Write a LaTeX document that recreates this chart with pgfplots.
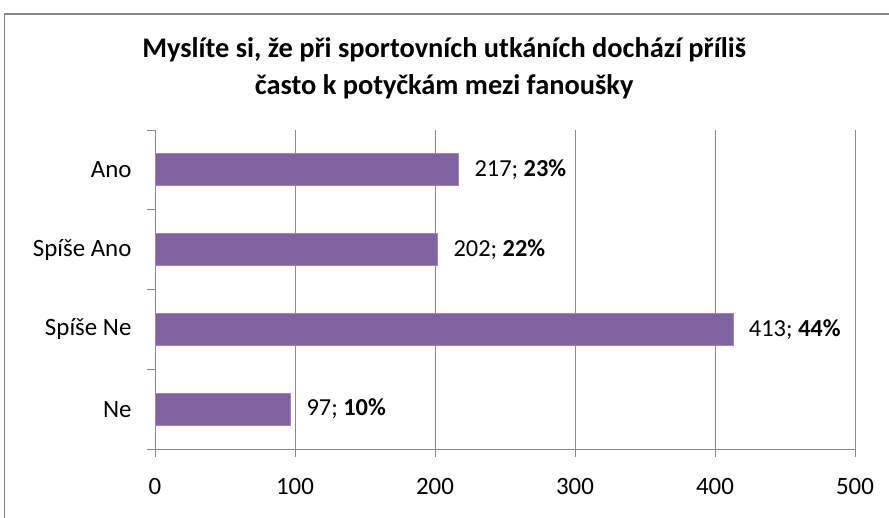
\documentclass[border=0pt]{standalone}
\usepackage{fontspec}
\setmainfont{Carlito}
\usepackage{pgfplots}
\usepackage{pgfplotstable}
\pgfplotsset{compat=1.18}
\definecolor{barfill}{HTML}{8064A2}
\definecolor{baredge}{HTML}{9C86BC}
\definecolor{gridc}{HTML}{8A8A8A}
\definecolor{framec}{HTML}{868686}

% c = category position (0 = Ne ... 3 = Ano), v = count, p = percent
\pgfplotstableread{
c v p
0 97 10
1 413 44
2 202 22
3 217 23
}\answers

\begin{document}
\begin{tikzpicture}
\useasboundingbox (0,0) rectangle (889bp,-518bp);
% chart frame (right and bottom edges fall outside the picture)
\draw[framec, line width=1.6bp] (4.5bp,-1000bp) -- (4.5bp,-14bp) -- (1000bp,-14bp);
\begin{axis}[
    at={(155bp,-449bp)}, anchor=south west,
    scale only axis, width=700bp, height=319bp,
    xbar, bar width=32bp,
    xmin=0, xmax=500, ymin=-0.5, ymax=3.5,
    xtick={0,100,...,500},
    ytick={0,1,2,3},
    yticklabels={Ne, Spíše Ne, Spíše Ano, Ano},
    minor ytick={-0.5,0.5,1.5,2.5,3.5},
    axis x line=bottom, axis y line=left,
    axis line style={draw=gridc, -, line width=0.9bp},
    xmajorgrids,
    major grid style={draw=gridc, line width=0.9bp},
    tick align=outside,
    major tick length=8bp, minor tick length=8bp,
    major x tick style={draw=gridc, line width=0.9bp},
    minor y tick style={draw=gridc, line width=0.9bp},
    major y tick style={draw=none},
    tick label style={font=\fontsize{25}{30}\selectfont},
    /pgf/number format/assume math mode=true,
    xticklabel style={yshift=-18bp},
    yticklabel style={xshift=-12bp},
    point meta=explicit,
    nodes near coords={\pgfmathprintnumber{\pgfkeysvalueof{/data point/x}}; \textbf{\pgfmathprintnumber{\pgfplotspointmeta}\%}},
    every node near coord/.append style={anchor=west, xshift=12bp,
        font=\fontsize{24.5}{29}\selectfont, color=black},
    title={Myslíte si, že při sportovních utkáních dochází příliš\\často k potyčkám mezi fanoušky},
    title style={at={(0.413,1.175)}, anchor=center, align=center,
        font=\fontsize{28.5}{37}\selectfont\bfseries},
]
\addplot[fill=barfill, draw=baredge, line width=0.8bp] table[x=v, y=c, meta=p] {\answers};
\end{axis}
\end{tikzpicture}
\end{document}
